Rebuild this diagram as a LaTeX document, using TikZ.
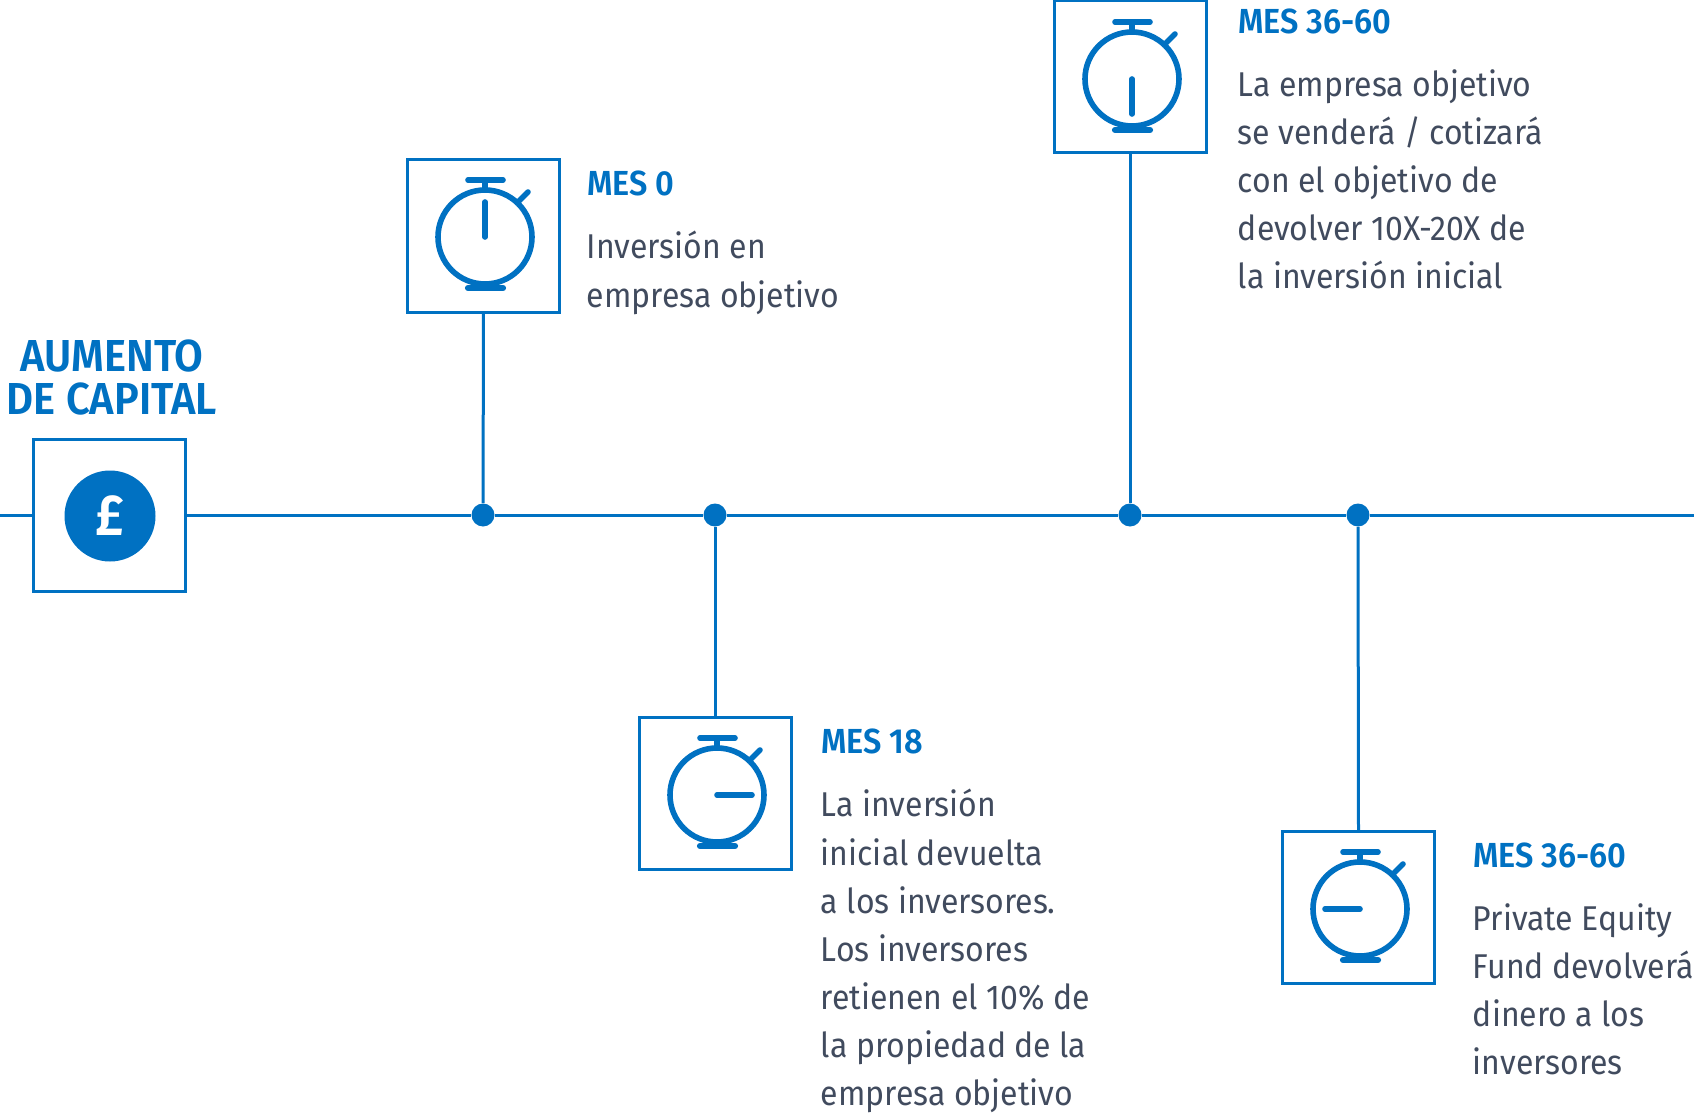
\documentclass[tikz,border=0pt]{standalone}
\usepackage{fontspec}
\setmainfont{Fira Sans}[FakeStretch=0.93,BoldFont={Fira Sans SemiBold}]
\definecolor{bl}{HTML}{0071C2}
\definecolor{tx}{HTML}{414B5E}
\tikzset{x=0.5pt,y=-0.5pt,
 box/.style={draw=bl,line width=1.5pt,fill=white,minimum size=76pt,inner sep=0pt,outer sep=0pt},
 link/.style={draw=bl,line width=1.5pt},
 dot/.style={circle,fill=bl,minimum size=11.5pt,inner sep=0pt},
 head/.style={anchor=north west,inner sep=0pt,text=bl,font=\fontsize{17.4}{24}\selectfont\bfseries},
 body/.style={anchor=north west,inner sep=0pt,text=tx,align=left,font=\fontsize{17.2}{24.05}\selectfont},
 watch/.pic={
  \draw[bl,line width=2.8pt] (0,0) circle (47);
  \draw[bl,line width=2.8pt,line cap=round] (-17,-57) -- (18,-57) (0,-57) -- (0,-47);
  \draw[bl,line width=3.1pt,line cap=round] (-17,51) -- (18,51);
  \draw[bl,line width=2.8pt,line cap=round] (33,-35) -- (43,-45);
  \draw[bl,line width=2.8pt,line cap=round] (0,0) -- (#1:35);
 }}
\begin{document}
\begin{tikzpicture}
\useasboundingbox (0,0) rectangle (1694,1113);
\coordinate (L) at (0,515);
\coordinate (R) at (1694,515);
\node[box] (b0) at (109,515) {};
\node[circle,fill=bl,minimum size=45.5pt,inner sep=0pt] (pound) at (110,516) {\textcolor{white}{\fontsize{29}{29}\selectfont\bfseries £}};
\node[box] (b1) at (483.5,236) {};
\node[box] (b2) at (715,793.5) {};
\node[box] (b3) at (1130,77) {};
\node[box] (b4) at (1358.5,907) {};
\node[dot] (d1) at (483,515) {};
\node[dot] (d2) at (715,515) {};
\node[dot] (d3) at (1130,515) {};
\node[dot] (d4) at (1358,515) {};
\draw[link] (L) -- (b0.west);
\draw[link] (b0.east) -- (d1) -- (d2) -- (d3) -- (d4) -- (R);
\draw[link] (b1.south) -- (d1);
\draw[link] (b2.north) -- (d2);
\draw[link] (b3.south) -- (d3);
\draw[link] (b4.north) -- (d4);
\pic at (485,237) {watch={-90}};
\pic at (717,795) {watch={0}};
\pic at (1132,79) {watch={90}};
\pic at (1360,909) {watch={180}};
\node[anchor=north,inner sep=0pt,text=bl,align=center,font=\fontsize{22.4}{21.7}\selectfont\bfseries] (title) at (112,339) {AUMENTO\\DE CAPITAL};
\node[head] (h1) at (587,170) {MES 0};
\node[body] (t1) at (586.5,231) {Inversión en\\empresa objetivo};
\node[head] (h2) at (821,728) {MES 18};
\node[body] (t2) at (820.5,789) {La inversión\\inicial devuelta\\a los inversores.\\Los inversores\\retienen el 10\% de\\la propiedad de la\\empresa objetivo};
\node[head] (h3) at (1238,8) {MES 36-60};
\node[body] (t3) at (1237.5,69) {La empresa objetivo\\se venderá / cotizará\\con el objetivo de\\devolver 10X-20X de\\la inversión inicial};
\node[head] (h4) at (1473,842) {MES 36-60};
\node[body] (t4) at (1472.5,903) {Private Equity\\Fund devolverá\\dinero a los\\inversores};
\end{tikzpicture}
\end{document}
